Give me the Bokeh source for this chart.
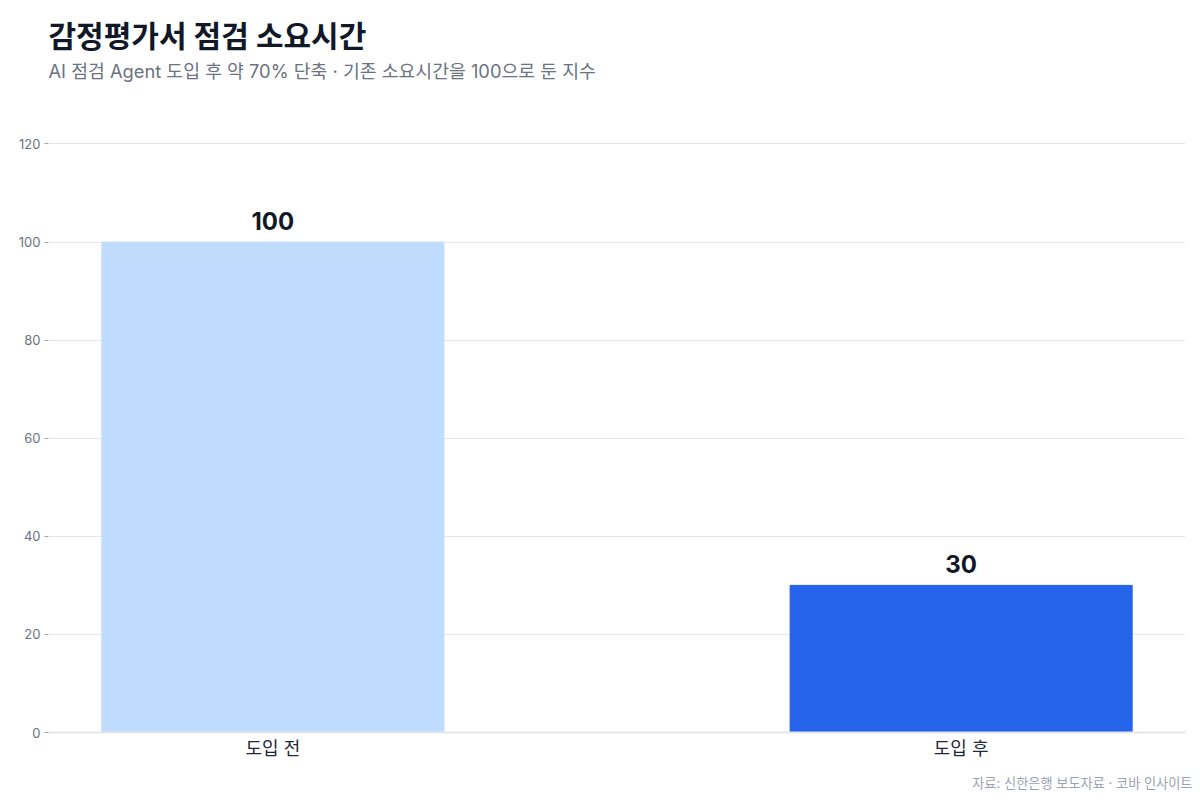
from bokeh.plotting import figure
from bokeh.models import FactorRange, Range1d, ColumnDataSource, LabelSet, Title, FixedTicker
from bokeh.core.properties import value
from bokeh.embed import file_html
from bokeh.resources import INLINE

categories = ["도입 전", "도입 후"]
values = [100, 30]
value_labels = ["100", "30"]
y_ticks = [0, 20, 40, 60, 80, 100, 120]
bar_colors = ["#bfdbfe", "#2563eb"]

title_text = "감정평가서 점검 소요시간"
subtitle_text = "AI 점검 Agent 도입 후 약 70% 단축 · 기존 소요시간을 100으로 둔 지수"
source_text = "자료: 신한은행 보도자료 · 코바 인사이트"

FONT = "Inter, 'Noto Sans CJK KR', sans-serif"

src = ColumnDataSource(dict(cat=categories, val=values, lab=value_labels, color=bar_colors))

p = figure(
    width=1192, height=792,
    x_range=FactorRange(factors=categories, range_padding=-0.174, range_padding_units="absolute"),
    y_range=Range1d(0, 120.5),
    output_backend="svg", toolbar_location=None,
    min_border_left=48, min_border_right=7, min_border_top=141, min_border_bottom=10,
)
p.outline_line_color = None
p.background_fill_color = "white"
p.border_fill_color = "white"

p.vbar(x="cat", top="val", width=0.497, color="color", source=src)

labels = LabelSet(x="cat", y="val", text="lab", source=src, text_align="center",
                  text_baseline="alphabetic", y_offset=12,
                  text_font=value(FONT), text_font_size="24px", text_font_style="bold",
                  text_color="#111827")
p.add_layout(labels)

# y axis
p.yaxis.ticker = FixedTicker(ticks=y_ticks)
p.yaxis.axis_line_color = None
p.yaxis.major_tick_out = 4
p.yaxis.major_tick_in = 0
p.yaxis.major_tick_line_color = "#9ca3af"
p.yaxis.minor_tick_line_color = None
p.yaxis.major_label_text_font = FONT
p.yaxis.major_label_text_font_size = "13px"
p.yaxis.major_label_text_color = "#6b7280"
p.yaxis.major_label_standoff = 4

# x axis
p.xaxis.axis_line_color = "#e5e7eb"
p.xaxis.axis_line_width = 2
p.xaxis.major_tick_line_color = None
p.xaxis.major_tick_out = 0
p.xaxis.major_tick_in = 0
p.xaxis.minor_tick_line_color = None
p.xaxis.major_label_text_font = FONT
p.xaxis.major_label_text_font_size = "18px"
p.xaxis.major_label_text_color = "#1f2937"
p.xaxis.major_label_standoff = 5

p.xgrid.grid_line_color = None
p.ygrid.grid_line_color = "#e5e7eb"
p.ygrid.grid_line_width = 1

# below: spacer then footer
p.add_layout(Title(text=" ", text_font_size="1px", standoff=6), "below")
p.add_layout(Title(text=source_text, align="right", text_font=FONT, text_font_size="13.2px",
                   text_color="#9ca3af", text_font_style="normal", offset=-7, standoff=4), "below")

# above: spacer, subtitle, title (later added sits higher)
p.add_layout(Title(text=" ", text_font_size="1px", standoff=57), "above")
p.add_layout(Title(text=subtitle_text, align="left", text_font=FONT, text_font_size="18.3px",
                   text_color="#6b7280", text_font_style="normal", standoff=0), "above")
p.add_layout(Title(text=title_text, align="left", text_font=FONT, text_font_size="30px",
                   text_color="#111827", text_font_style="bold", standoff=8), "above")

open("out.html", "w").write(file_html(p, INLINE))
